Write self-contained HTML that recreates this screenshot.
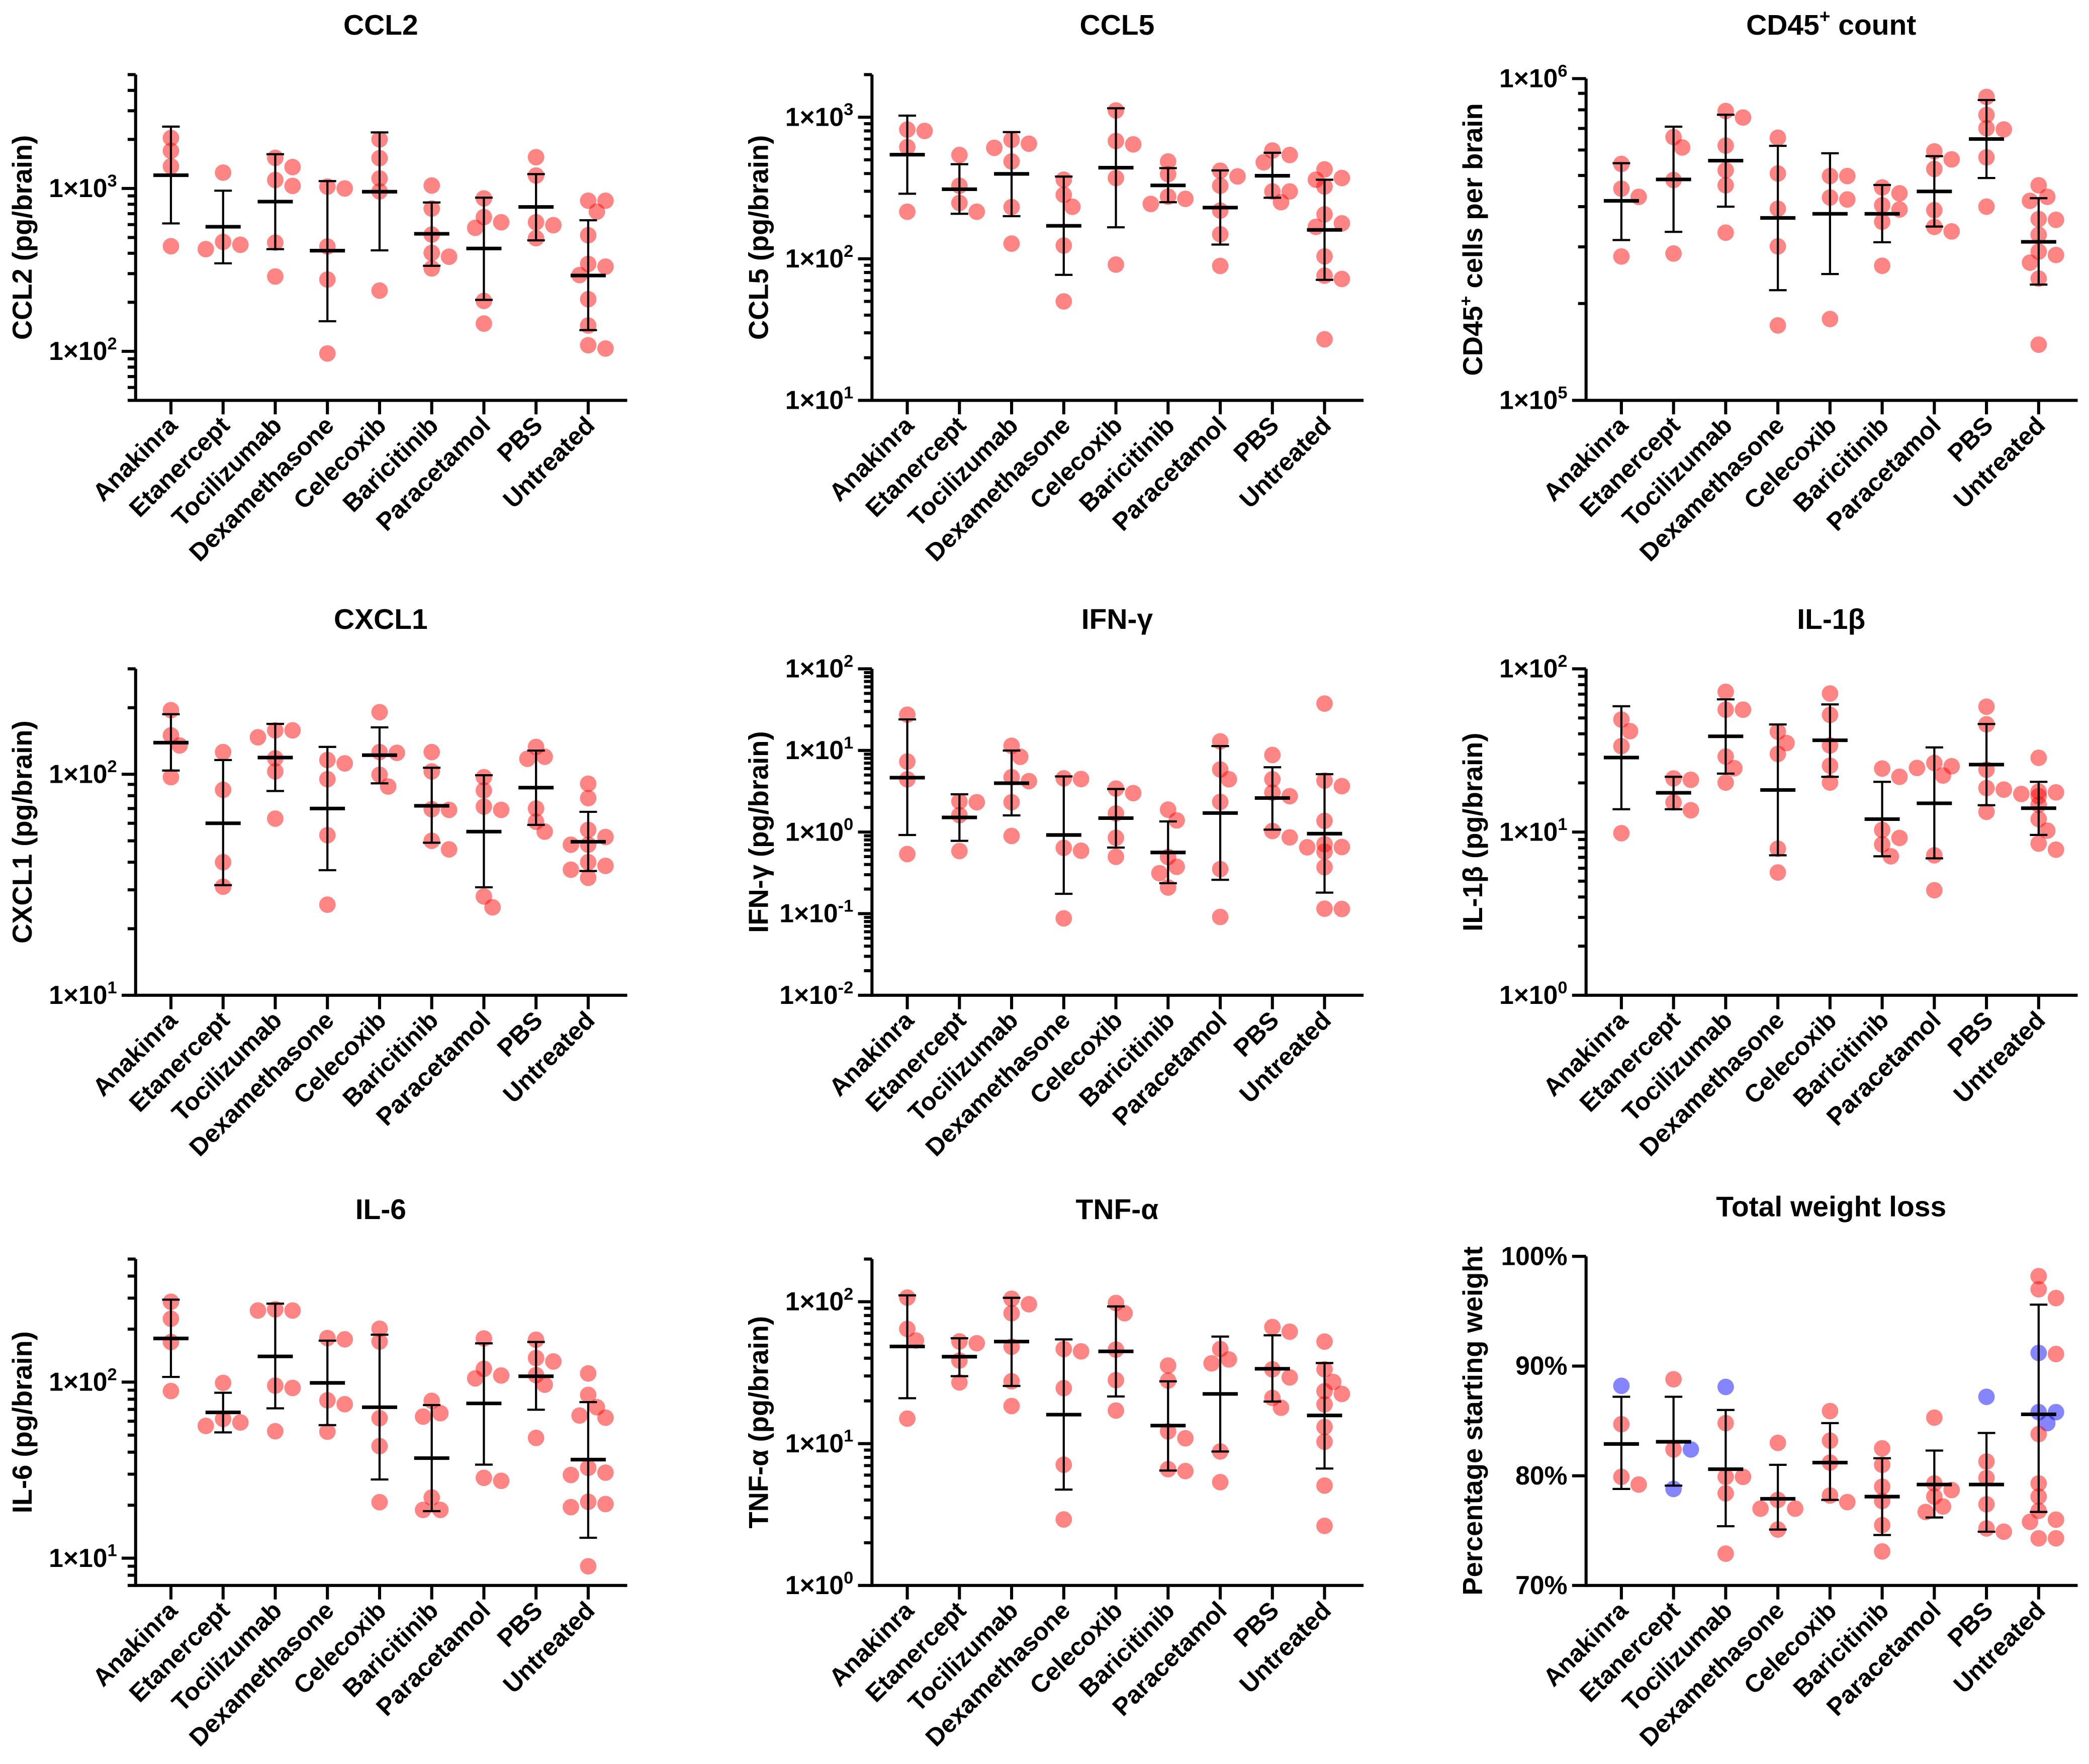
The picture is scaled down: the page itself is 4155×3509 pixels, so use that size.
<!DOCTYPE html>
<html><head><meta charset="utf-8"><title>Cytokine panels</title>
<style>
html,body{margin:0;padding:0;background:#fff;}
svg{display:block;}
text{font-family:"Liberation Sans",Arial,sans-serif;font-weight:bold;fill:#000;}
</style></head>
<body>
<svg id="fig" width="4155" height="3509" viewBox="0 0 1568 1324" preserveAspectRatio="none" xmlns="http://www.w3.org/2000/svg"></svg>
<script>
const categories = ["Anakinra","Etanercept","Tocilizumab","Dexamethasone","Celecoxib","Baricitinib","Paracetamol","PBS","Untreated"];

const ccl2Values = [[2041,1702,1367,442],[1251,470,451,424],[1541,1353,1127,1037,465,288],[1026,1000,440,276,97],[2000,1535,1151,959,236],[1042,752,521,402,381,323],[869,667,620,573,204,148],[1556,1200,620,595,495],[841,841,720,516,344,331,294,209,144,109,104]];
const ccl2Mean = [1206,582,830,415,955,527,428,770,292];
const ccl2Lo = [610,347,424,153,417,335,207,480,135];
const ccl2Hi = [2397,969,1623,1110,2208,820,878,1225,638];

const ccl5Values = [[818,800,615,215],[541,328,248,215],[692,650,608,487,232,128],[362,283,233,124,50],[1116,679,643,372,91],[487,396,275,265,244],[419,382,328,219,149,89],[582,541,480,299,299,251],[428,372,362,324,206,178,168,104,76,72,27]];
const ccl5Mean = [544,310,398,171,440,330,230,386,160];
const ccl5Lo = [288,208,200,77,167,251,126,270,71];
const ccl5Hi = [1026,466,785,381,1157,437,421,561,362];

const cd45Values = [[543e3,455e3,429e3,280e3],[658e3,611e3,484e3,286e3],[793e3,757e3,619e3,519e3,466e3,332e3],[655e3,507e3,394e3,301e3,171e3],[498e3,498e3,427e3,421e3,179e3],[459e3,440e3,404e3,392e3,359e3,262e3],[594e3,561e3,524e3,390e3,346e3,335e3],[877e3,771e3,701e3,695e3,569e3,400e3],[466e3,429e3,417e3,366e3,364e3,327e3,290e3,283e3,268e3,239e3,149e3]];
const cd45Mean = [417e3,486e3,556e3,369e3,380e3,380e3,446e3,649e3,311e3];
const cd45Lo = [315e3,334e3,400e3,220e3,247e3,310e3,347e3,491e3,229e3];
const cd45Hi = [546e3,709e3,772e3,618e3,586e3,467e3,574e3,858e3,425e3];

const cxcl1Values = [[195,150,135,97],[126,85,40,31],[158,158,147,118,103,63],[116,112,95,53,25.7],[191,126,125,99.5,88],[126,103,69.5,69,50,45.7],[97,84.5,71.4,69,28,25],[133,120,117.5,70,61,55],[90.6,78,56,52,48,48,40,38.5,37,34]];
const cxcl1Mean = [139,60,119,70,122,72,55,87,49.5];
const cxcl1Lo = [104,31.5,84,36.8,91,49,30.8,59,36.5];
const cxcl1Hi = [187,116,169,133,163,107,99,128,67.6];

const ifnValues = [[27.4,7.3,4.43,0.537],[2.37,2.32,1.61,0.585],[11.4,8.36,4.7,4.2,2.32,0.895],[4.55,4.46,0.64,0.59,0.0875],[3.41,3.0,1.69,0.85,0.497],[1.88,1.39,0.494,0.375,0.313,0.209],[12.9,5.84,4.43,2.34,0.351,0.091],[8.8,4.43,3.04,2.75,1.03,0.86],[37.5,4.27,3.65,1.37,0.71,0.655,0.65,0.574,0.371,0.114,0.115]];
const ifnMean = [4.64,1.51,3.97,0.92,1.48,0.562,1.71,2.61,0.955];
const ifnLo = [0.92,0.78,1.6,0.175,0.645,0.236,0.26,1.07,0.181];
const ifnHi = [24,2.9,9.97,4.8,3.37,1.35,11.3,6.22,5.12];

const il1bValues = [[48.9,41.5,33.6,9.84],[21.3,20.9,15.2,13.6],[72.3,56.2,56.2,29,24.6,20.1],[41.2,35.1,30.1,7.9,5.65],[70.6,52.2,33.9,25.5,20.1],[24.5,21.8,10.3,9.2,8.4,7.1],[26.5,25.3,24.7,22.2,7.2,4.4],[58.6,45.7,24.1,18.6,18.2,13.3],[28.5,17.7,17.5,17.1,16.6,14.7,12,10.2,8.5,7.8]];
const il1bMean = [28.6,17.4,38.6,18.1,36.5,12,15,25.9,14];
const il1bLo = [13.8,13.8,22.8,7.2,21.8,7.1,6.9,14.6,9.6];
const il1bHi = [59,21.8,65,45.6,60.5,20.3,33,45.9,20.3];

const il6Values = [[286,229,169,89],[99,61.8,59,56.4],[259,255,255,95.5,92.7,52.6],[178,175,78.8,74.9,52.3],[201,170,62.4,43.3,20.8],[78.3,66.6,63.7,22.1,18.8,18.8],[177,119,109,105,28.6,27.5],[174,137,131,109.6,96.7,48.2],[112,84.6,72,64.6,62.8,32.6,30.6,29.7,20.9,20.3,19.5,9.0]];
const il6Mean = [177,67.3,140,99,72,37,75.7,108,36.3];
const il6Lo = [107,51.8,71,57,28,18.5,34,69.7,13.06];
const il6Hi = [294,87,279,172,186,74.1,166,169,77];

const tnfValues = [[107,64.3,53.3,15],[52.5,51,38.5,27],[105,96,83,48.2,27.5,18.4],[46.4,44.7,24.6,7.1,2.92],[98,83,46,28,17.1],[35.5,27.8,12.2,10.9,6.6,6.4],[46.4,39.2,36.8,8.8,5.35],[66.3,61.5,33.4,29.3,21,17.9],[52.4,33.4,27.2,23.4,22.4,18.9,13.1,10.3,5.06,2.63]];
const tnfMean = [48.4,41,52.4,16,44.7,13.4,22.4,33.7,15.8];
const tnfLo = [20.9,29.9,25.5,4.74,21.5,6.46,8.8,19.8,6.67];
const tnfHi = [111,55.3,106.6,54.3,92.7,27.5,56.8,58,37];

const weightRed = [[84.7,79.9,79.2],[88.8,82.4],[84.8,79.9,79.9,78.4,72.9],[83.0,77.8,77.0,77.0,75.1],[85.9,83.2,81.2,78.2,77.6],[82.5,81.0,79.0,77.7,75.5,73.1],[85.3,79.3,78.7,78.1,77.2,76.7],[81.3,79.8,77.4,75.2,74.9],[98.2,97.0,96.2,91.1,83.8,79.3,78.1,76.8,76.0,75.8,74.3,74.3]];
const weightBlue = [[88.2],[82.4,78.8],[88.1],[],[],[],[],[87.2],[91.2,85.8,85.8,84.8]];
const weightMean = [82.9,83.1,80.6,77.9,81.2,78.1,79.2,79.2,85.6];
const weightLo = [78.8,79.1,75.4,75.1,77.8,74.6,76.2,74.9,76.7];
const weightHi = [87.2,87.2,86.0,81.0,84.8,81.6,82.3,83.9,95.6];
const weightTicks = [70,80,90,100];

const NS = "http://www.w3.org/2000/svg";
const svg = document.getElementById("fig");
function mk(tag, attrs, parent){
  const e = document.createElementNS(NS, tag);
  for (const k in attrs) e.setAttribute(k, attrs[k]);
  (parent||svg).appendChild(e);
  return e;
}
const R = 6.2;

function panel(cfg){
  const g = mk("g", {});
  
  
  const ax = cfg.axisX, top = cfg.top, bot = cfg.bottom, right = ax + 369;
  let yOf;
  if (cfg.log){
    const l0 = Math.log10(cfg.min), l1 = Math.log10(cfg.max);
    yOf = v => bot - (Math.log10(v) - l0) / (l1 - l0) * (bot - top);
  } else {
    yOf = v => bot - (v - cfg.min) / (cfg.max - cfg.min) * (bot - top);
  }
  const xOf = i => ax + 26.5 + i * 39.15;

  const t = mk("text", {x: ax + 184, y: top - 30 - (cfg.titleUp||0), "text-anchor":"middle", "font-size": 21.5}, g);
  
  
  t.textContent = cfg.title;
  if (cfg.titleSup){
    const s = mk("tspan", {"font-size": 14, dy: -9}, t); s.textContent = cfg.titleSup;
    const s2 = mk("tspan", {dy: 9}, t); s2.textContent = cfg.titleRest;
  }
  const yl = mk("text", {transform:`translate(${ax-78},${(top+bot)/2}) rotate(-90)`, "text-anchor":"middle", "font-size": 20.5}, g);
  
  
  yl.textContent = cfg.ylabel;
  if (cfg.ylabelSup){
    const s = mk("tspan", {"font-size": 13, dy: -8}, yl); s.textContent = cfg.ylabelSup;
    const s2 = mk("tspan", {dy: 8}, yl); s2.textContent = cfg.ylabelRest;
  }

  const dotsG = mk("g", {}, g);
  
  
  categories.forEach((c, i) => {
    const pts = [];
    cfg.values[i].forEach(v => pts.push({v, col: "red"}));
    if (cfg.blue) cfg.blue[i].forEach(v => pts.push({v, col: "blue"}));
    pts.forEach(p => p.y = yOf(p.v));
    pts.sort((a, b) => a.y - b.y);
    const placed = [];
    pts.forEach(p => {
      const cand = [0, 6.5, -6.5, 13, -13];
      let off = null;
      for (const o of cand){
        let ok = true;
        for (const q of placed){
          const dx = o - q.off, dy = p.y - q.y;
          if (dx*dx + dy*dy < 9.5*9.5){ ok = false; break; }
        }
        if (ok){ off = o; break; }
      }
      if (off === null) off = 0;
      p.off = off; placed.push(p);
      const d = mk("circle", {cx: xOf(i) + off, cy: p.y, r: R,
        fill: p.col === "red" ? "rgba(255,0,0,0.48)" : "rgba(0,0,255,0.48)"}, dotsG);
      
      
    });
  });

  categories.forEach((c, i) => {
    const x = xOf(i);
    const eg = mk("g", {stroke:"#000", fill:"none"}, g);
    
    
    const yh = yOf(cfg.hi[i]), yl2 = yOf(cfg.lo[i]), ym = yOf(cfg.mean[i]);
    mk("line", {x1:x, x2:x, y1:yh, y2:yl2, "stroke-width":1.6}, eg);
    mk("line", {x1:x-6.6, x2:x+6.6, y1:yh, y2:yh, "stroke-width":1.6}, eg);
    mk("line", {x1:x-6.6, x2:x+6.6, y1:yl2, y2:yl2, "stroke-width":1.6}, eg);
    const m = mk("line", {x1:x-13.2, x2:x+13.2, y1:ym, y2:ym, "stroke-width":2.7}, eg);
    
    
  });

  const axG = mk("g", {stroke:"#000", "stroke-width":2.3}, g);
  
  
  mk("line", {x1:ax, x2:ax, y1:top, y2:bot+1.1}, axG);
  mk("line", {x1:ax-1.1, x2:right, y1:bot, y2:bot}, axG);
  categories.forEach((c, i) => {
    mk("line", {x1:xOf(i), x2:xOf(i), y1:bot, y2:bot+10.5}, axG);
    const lab = mk("text", {transform:`translate(${xOf(i)+6},${bot+20}) rotate(-45)`, "text-anchor":"end", "font-size": 18.8, stroke:"none"}, g);
    
    
    lab.textContent = c;
  });
  if (cfg.log){
    const l0 = Math.log10(cfg.min), l1 = Math.log10(cfg.max);
    for (let e = Math.floor(l0); e <= Math.ceil(l1); e++){
      for (let k = 1; k <= 9; k++){
        const v = k * Math.pow(10, e);
        const lv = Math.log10(v);
        if (lv < l0 - 1e-6 || lv > l1 + 1e-6) continue;
        const y = yOf(v);
        mk("line", {x1: ax - (k === 1 ? 10.5 : 6), x2: ax, y1: y, y2: y}, axG);
        if (k === 1){
          const tl = mk("text", {x: ax - 14, y: y + 6.5, "text-anchor":"end", "font-size": 19.5, stroke:"none"}, g);
          
          
          tl.textContent = "1×10";
          const sp = mk("tspan", {"font-size": 13, dy: -8}, tl);
          sp.textContent = String(e);
        }
      }
    }
  } else {
    cfg.ticks.forEach(v => {
      const y = yOf(v);
      mk("line", {x1: ax - 10.5, x2: ax, y1: y, y2: y}, axG);
      const tl = mk("text", {x: ax - 14, y: y + 6.5, "text-anchor":"end", "font-size": 19.5, stroke:"none"}, g);
      
      
      tl.textContent = v + "%";
    });
  }
}

const c1 = 101.8, c2 = 654.5, c3 = 1190.5;
const r1 = [56, 300.5], r2 = [502, 747], r3 = [945, 1190];
panel({key:"ccl2", title:"CCL2", ylabel:"CCL2 (pg/brain)", axisX:c1, top:r1[0], bottom:r1[1], log:true, min:50, max:5000, values:ccl2Values, mean:ccl2Mean, lo:ccl2Lo, hi:ccl2Hi});
panel({key:"ccl5", title:"CCL5", ylabel:"CCL5 (pg/brain)", axisX:c2, top:r1[0], bottom:r1[1], log:true, min:10, max:2000, values:ccl5Values, mean:ccl5Mean, lo:ccl5Lo, hi:ccl5Hi});
panel({key:"cd45", title:"CD45", titleSup:"+", titleRest:" count", ylabel:"CD45", ylabelSup:"+", ylabelRest:" cells per brain", axisX:c3, top:59, bottom:r1[1], titleUp:3, log:true, min:1e5, max:1e6, values:cd45Values, mean:cd45Mean, lo:cd45Lo, hi:cd45Hi});
panel({key:"cxcl1", title:"CXCL1", ylabel:"CXCL1 (pg/brain)", axisX:c1, top:r2[0], bottom:r2[1], log:true, min:10, max:300, values:cxcl1Values, mean:cxcl1Mean, lo:cxcl1Lo, hi:cxcl1Hi});
panel({key:"ifn-gamma", title:"IFN-γ", ylabel:"IFN-γ (pg/brain)", axisX:c2, top:r2[0], bottom:r2[1], log:true, min:0.01, max:100, values:ifnValues, mean:ifnMean, lo:ifnLo, hi:ifnHi});
panel({key:"il-1b", title:"IL-1β", ylabel:"IL-1β (pg/brain)", axisX:c3, top:r2[0], bottom:r2[1], log:true, min:1, max:100, values:il1bValues, mean:il1bMean, lo:il1bLo, hi:il1bHi});
panel({key:"il-6", title:"IL-6", ylabel:"IL-6 (pg/brain)", axisX:c1, top:r3[0], bottom:r3[1], log:true, min:7, max:500, values:il6Values, mean:il6Mean, lo:il6Lo, hi:il6Hi});
panel({key:"tnf-alpha", title:"TNF-α", ylabel:"TNF-α (pg/brain)", axisX:c2, top:r3[0], bottom:r3[1], log:true, min:1, max:200, values:tnfValues, mean:tnfMean, lo:tnfLo, hi:tnfHi});
panel({key:"weight", title:"Total weight loss", ylabel:"Percentage starting weight", axisX:c3, top:943, bottom:r3[1], log:false, min:70, max:100, ticks:weightTicks, values:weightRed, blue:weightBlue, mean:weightMean, lo:weightLo, hi:weightHi});
</script>
</body></html>
